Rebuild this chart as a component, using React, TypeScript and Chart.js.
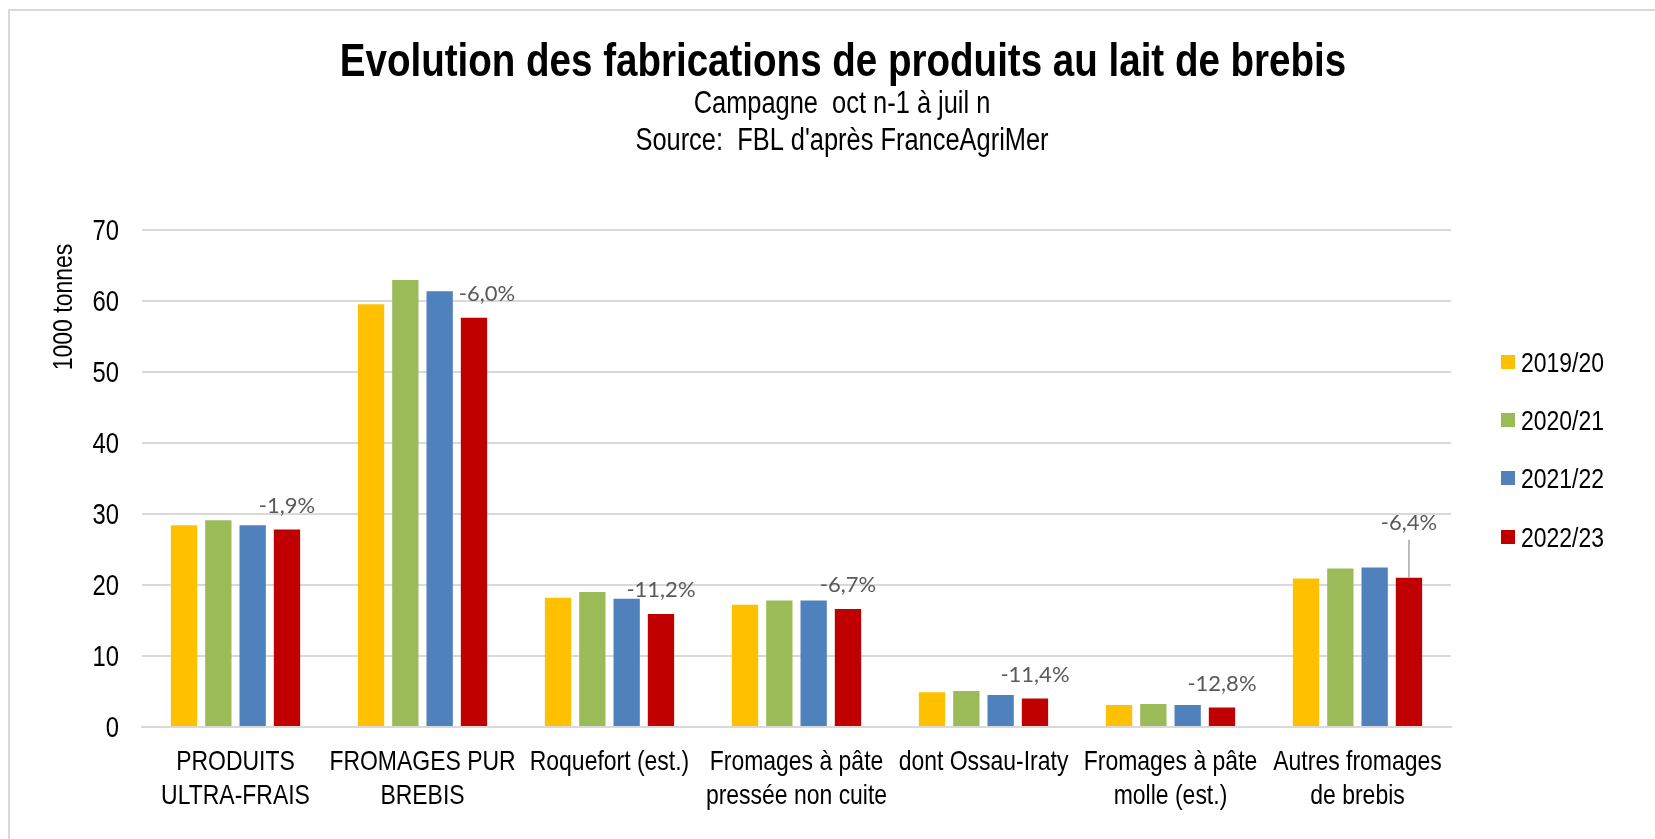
import React, { useEffect, useRef } from "react";
import { Chart, registerables } from "chart.js";

Chart.register(...registerables);

const titleText = "Evolution des fabrications de produits au lait de brebis";
const subtitleLines = ["Campagne  oct n-1 à juil n", "Source:  FBL d'après FranceAgriMer"];
const yAxisTitle = "1000 tonnes";

const categories: (string | string[])[] = [
  ["PRODUITS", "ULTRA-FRAIS"],
  ["FROMAGES PUR", "BREBIS"],
  "Roquefort (est.)",
  ["Fromages à pâte", "pressée non cuite"],
  "dont Ossau-Iraty",
  ["Fromages à pâte", "molle (est.)"],
  ["Autres fromages", "de brebis"],
];

const seriesLabels = ["2019/20", "2020/21", "2021/22", "2022/23"];
const seriesColors = ["#FFC000", "#9BBB59", "#4F81BD", "#C00000"];

const values2019 = [28.4, 59.5, 18.2, 17.2, 4.9, 3.1, 20.9];
const values2020 = [29.1, 62.9, 19.0, 17.8, 5.05, 3.25, 22.3];
const values2021 = [28.4, 61.3, 18.05, 17.8, 4.5, 3.1, 22.45];
const values2022 = [27.8, 57.6, 15.9, 16.6, 4.0, 2.75, 21.0];

const pctLabels = ["-1,9%", "-6,0%", "-11,2%", "-6,7%", "-11,4%", "-12,8%", "-6,4%"];

const yTicks = [0, 10, 20, 30, 40, 50, 60, 70];

const SANS = "'Liberation Sans', Arial, sans-serif";
const LABELFONT = "Lato, 'Open Sans', sans-serif";
const NARROW_X = 0.82;

function narrowText(
  ctx: CanvasRenderingContext2D,
  text: string,
  x: number,
  y: number,
  size: number,
  align: CanvasTextAlign,
  bold = false,
  rotate = 0
) {
  ctx.save();
  ctx.translate(x, y);
  if (rotate) ctx.rotate(rotate);
  ctx.scale(NARROW_X, 1);
  ctx.font = `${bold ? "bold " : ""}${size}px ${SANS}`;
  ctx.textAlign = align;
  ctx.textBaseline = "alphabetic";
  ctx.fillStyle = "#000000";
  ctx.fillText(text, 0, 0);
  ctx.restore();
}

const overlayPlugin = {
  id: "overlay",
  beforeDraw(chart: any) {
    const ctx = chart.ctx;
    ctx.save();
    ctx.fillStyle = "#ffffff";
    ctx.fillRect(0, 0, chart.width, chart.height);
    ctx.strokeStyle = "#d9d9d9";
    ctx.lineWidth = 2;
    ctx.strokeRect(9, 10, chart.width + 50, chart.height + 50);
    ctx.restore();
  },
  afterDatasetsDraw(chart: any) {
    const ctx = chart.ctx;
    const meta = chart.getDatasetMeta(3);
    ctx.save();
    ctx.font = `22px ${LABELFONT}`;
    ctx.fillStyle = "#595959";
    ctx.textAlign = "center";
    ctx.textBaseline = "middle";
    meta.data.forEach((bar: any, i: number) => {
      const txt = pctLabels[i];
      if (!txt) return;
      if (i === 6) {
        ctx.fillText(txt, bar.x, bar.y - 55);
        ctx.strokeStyle = "#a6a6a6";
        ctx.lineWidth = 1.5;
        ctx.beginPath();
        ctx.moveTo(bar.x, bar.y - 38);
        ctx.lineTo(bar.x, bar.y);
        ctx.stroke();
      } else if (i === 1) {
        ctx.fillText(txt, bar.x + 13, bar.y - 24);
      } else {
        ctx.fillText(txt, bar.x, bar.y - 24);
      }
    });
    ctx.restore();
  },
  afterDraw(chart: any) {
    const ctx = chart.ctx;
    const xScale = chart.scales.x;
    const yScale = chart.scales.y;

    // title & subtitles
    narrowText(ctx, titleText, 843, 76, 47, "center", true);
    narrowText(ctx, subtitleLines[0], 842, 113, 31, "center");
    narrowText(ctx, subtitleLines[1], 842, 150, 31, "center");

    // y axis title
    ctx.save();
    ctx.translate(62, 307);
    ctx.rotate(-Math.PI / 2);
    ctx.scale(NARROW_X, 1);
    ctx.font = `28px ${SANS}`;
    ctx.textAlign = "center";
    ctx.textBaseline = "alphabetic";
    ctx.fillStyle = "#000000";
    ctx.fillText(yAxisTitle, 0, 10);
    ctx.restore();

    // y tick labels
    yTicks.forEach((v) => {
      const y = yScale.getPixelForValue(v);
      narrowText(ctx, String(v), 119, y + 10, 29, "right");
    });

    // x category labels
    (chart.data.labels as (string | string[])[]).forEach((lab, i) => {
      const x = xScale.getPixelForValue(i);
      const lines = Array.isArray(lab) ? lab : [lab];
      lines.forEach((line, j) => {
        narrowText(ctx, line, x, 770 + j * 34, 28, "center");
      });
    });

    // legend
    const legendY = [362, 420, 478, 537];
    chart.data.datasets.forEach((ds: any, i: number) => {
      ctx.save();
      ctx.fillStyle = ds.backgroundColor;
      ctx.fillRect(1501, legendY[i] - 7, 14, 14);
      ctx.restore();
      narrowText(ctx, ds.label, 1521, legendY[i] + 10, 28, "left");
    });
  },
};

export default function App() {
  const canvasRef = useRef<HTMLCanvasElement | null>(null);

  useEffect(() => {
    if (!canvasRef.current) return;
    const seriesValues = [values2019, values2020, values2021, values2022];
    const chart = new Chart(canvasRef.current, {
      type: "bar",
      data: {
        labels: categories,
        datasets: seriesLabels.map((label, i) => ({
          label,
          data: seriesValues[i],
          backgroundColor: seriesColors[i],
          borderWidth: 0,
          categoryPercentage: 0.734,
          barPercentage: 0.767,
        })),
      },
      options: {
        responsive: false,
        animation: false,
        devicePixelRatio: 1,
        layout: { padding: { top: 229.5, right: 204, left: 0, bottom: 0 } },
        plugins: {
          legend: { display: false },
          title: { display: false },
          tooltip: { enabled: false },
        },
        scales: {
          x: {
            grid: { display: false, drawTicks: false },
            border: { display: true, color: "#d9d9d9", width: 2 },
            ticks: { display: false },
            afterFit(scale: any) {
              scale.height = 112;
            },
          },
          y: {
            min: 0,
            max: 70,
            afterBuildTicks(scale: any) {
              scale.ticks = yTicks.map((v) => ({ value: v }));
            },
            grid: { color: "#d9d9d9", lineWidth: 2, drawTicks: false },
            border: { display: false },
            ticks: { display: false },
            afterFit(scale: any) {
              scale.width = 142;
            },
          },
        },
      },
      plugins: [overlayPlugin],
    });
    return () => chart.destroy();
  }, []);

  return (
    <div style={{ position: "fixed", left: 0, top: 0, width: 1655, height: 839, background: "#fff" }}>
      <canvas ref={canvasRef} width={1655} height={839} style={{ width: 1655, height: 839, display: "block" }} />
    </div>
  );
}
